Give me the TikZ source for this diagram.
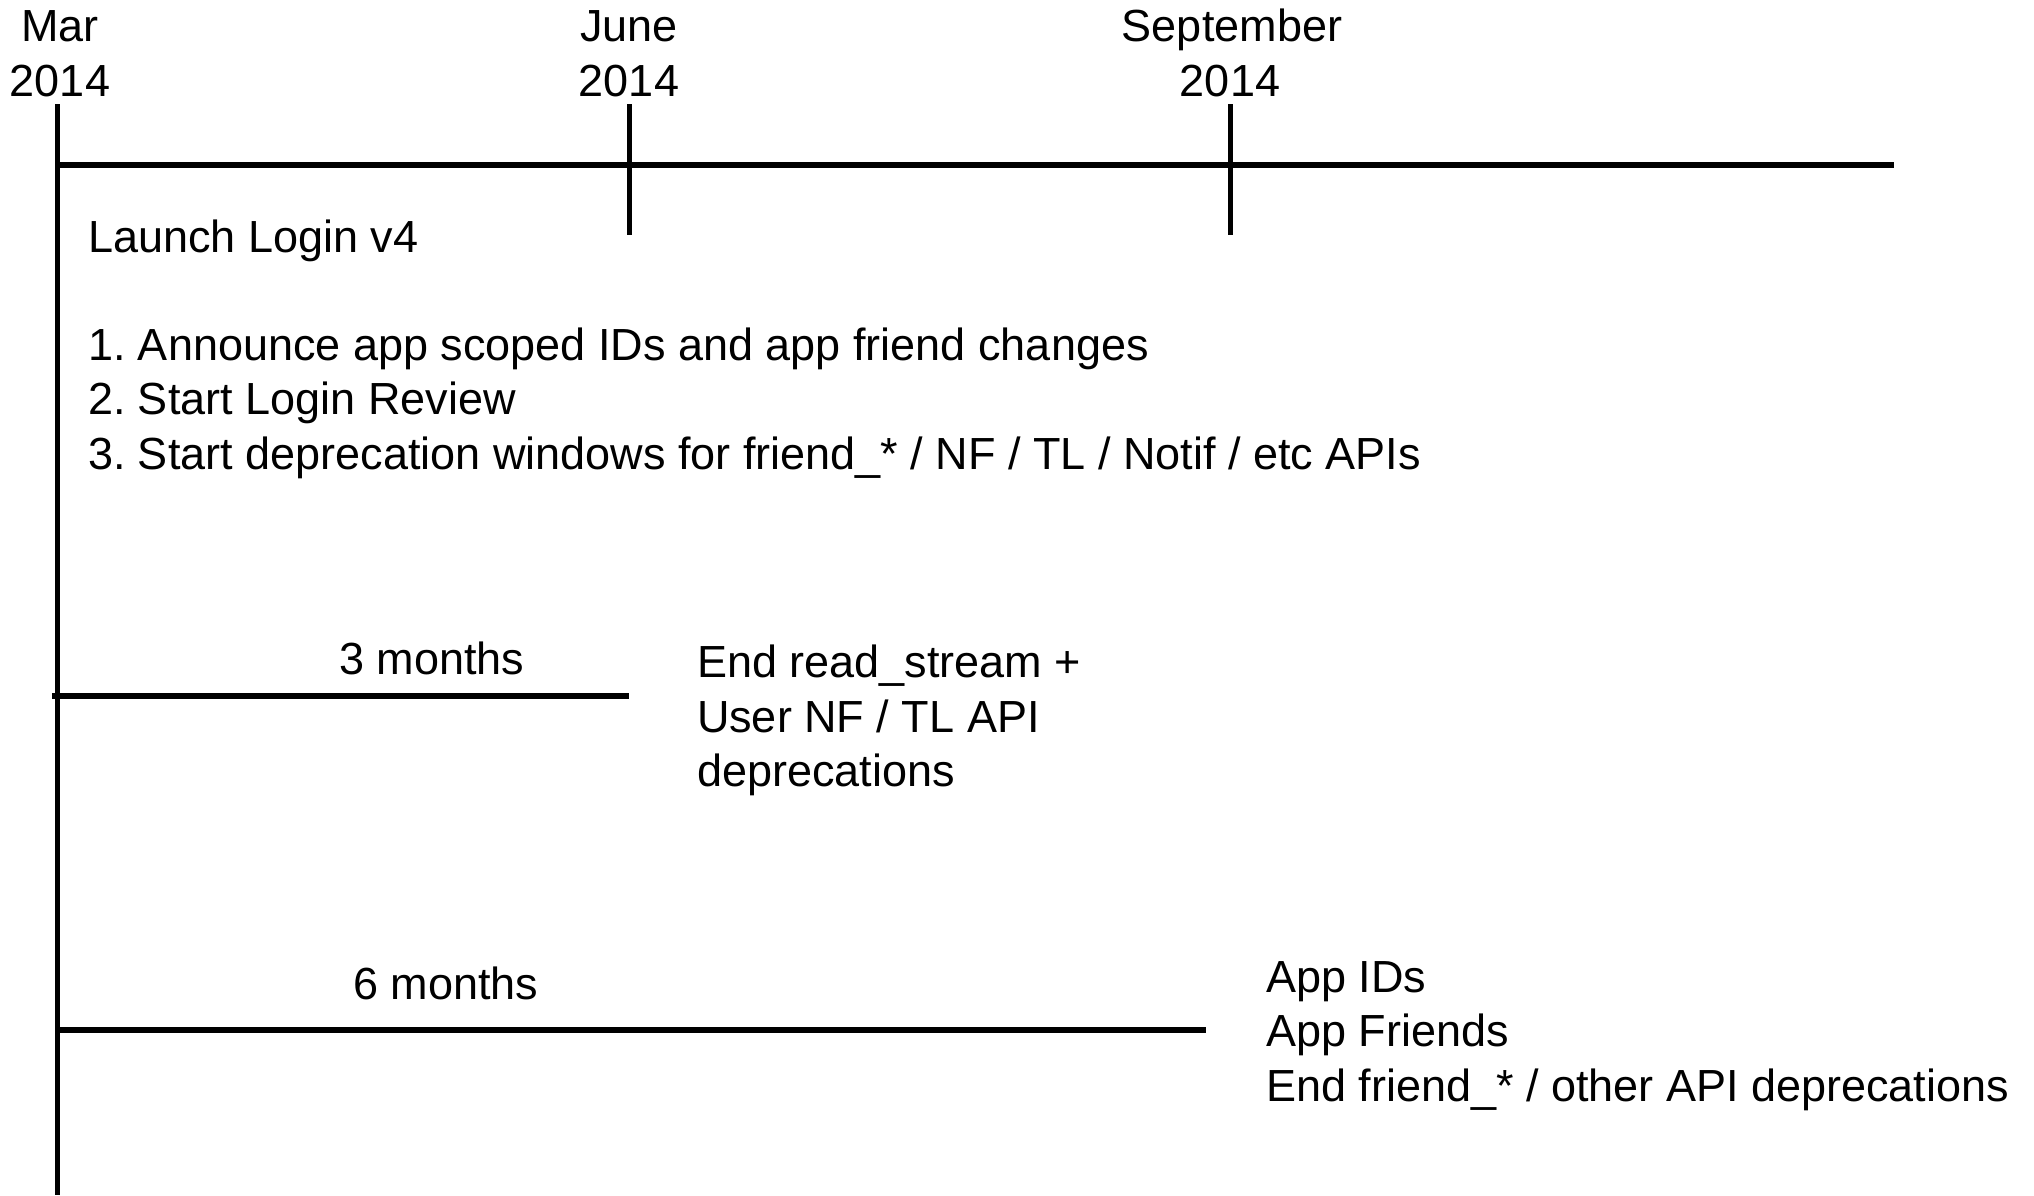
\documentclass[tikz,border=0pt]{standalone}
\usepackage{fontspec}
\setmainfont{Liberation Sans}
\frenchspacing
\begin{document}
\begin{tikzpicture}[x=1pt,y=-1pt,
  axis/.style={line width=5.5pt},
  tickline/.style={line width=5pt},
  lbl/.style={inner sep=0pt, outer sep=0pt, font=\fontsize{45}{55}\selectfont},
  datelbl/.style={lbl, anchor=base},
  txt/.style={lbl, anchor=base west},
]
\useasboundingbox (0,0) rectangle (2034,1195);

% axis end points and tick positions
\coordinate (marTop) at (57,104);
\coordinate (marBot) at (57,1195);
\coordinate (axisL) at (57,165);
\coordinate (axisR) at (1894,165);
\coordinate (junTop) at (629,104);
\coordinate (junBot) at (629,235);
\coordinate (sepTop) at (1230,104);
\coordinate (sepBot) at (1230,235);
\coordinate (threeL) at (52,696);
\coordinate (threeR) at (629,696);
\coordinate (sixL) at (57,1030);
\coordinate (sixR) at (1206,1030);

% time axis
\draw[tickline] (marTop) -- (marBot);
\draw[axis] (axisL) -- (axisR);
\draw[tickline] (junTop) -- (junBot);
\draw[tickline] (sepTop) -- (sepBot);

% date labels
\node[datelbl] (marM) at (60,41) {Mar};
\node[datelbl] (marY) at (60,96) {2014};
\node[datelbl] (junM) at (629,41) {June};
\node[datelbl] (junY) at (629,96) {2014};
\node[datelbl] (sepM) at (1232,41) {September};
\node[datelbl] (sepY) at (1230,96) {2014};

% launch items
\node[txt] (launch) at (88,252) {Launch Login v4};
\node[txt] (itemA) at (88,360) {1. Announce app scoped IDs and app friend changes};
\node[txt] (itemB) at (88,414) {2. Start Login Review};
\node[txt] (itemC) at (88,469) {3. Start deprecation windows for friend\_* / NF / TL / Notif / etc APIs};

% three month window
\draw[axis] (threeL) -- (threeR);
\node[datelbl] (three) at (432,674) {3 months};
\node[txt] (endA) at (697,677) {End read\_stream +};
\node[txt] (endB) at (697,732) {User NF / TL API};
\node[txt] (endC) at (697,786) {deprecations};

% six month window
\draw[axis] (sixL) -- (sixR);
\node[datelbl] (six) at (446,999) {6 months};
\node[txt] (appA) at (1266,992) {App IDs};
\node[txt] (appB) at (1266,1046) {App Friends};
\node[txt] (appC) at (1266,1101) {End friend\_* / other API deprecations};
\end{tikzpicture}
\end{document}
